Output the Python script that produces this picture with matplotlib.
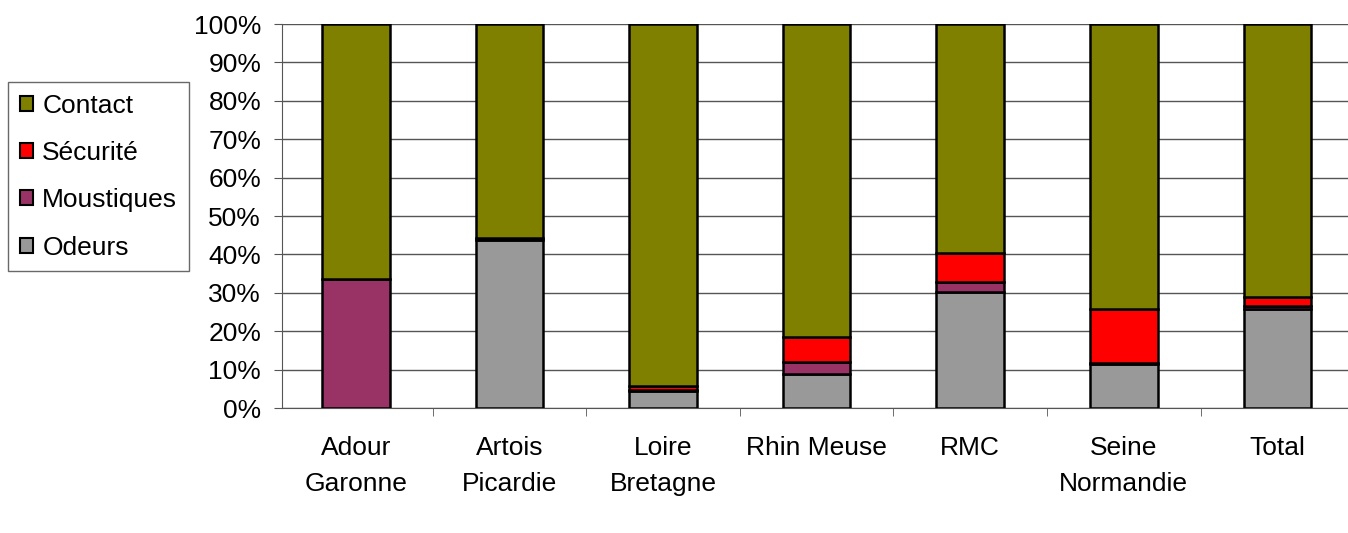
import numpy as np
import matplotlib.pyplot as plt
from matplotlib.patches import Patch

plt.rcParams['font.family'] = ['Liberation Sans', 'DejaVu Sans']

categories = ["Adour\nGaronne", "Artois\nPicardie", "Loire\nBretagne", "Rhin Meuse",
              "RMC", "Seine\nNormandie", "Total"]
odeurs = [0.0, 43.8, 4.4, 8.9, 30.1, 11.5, 25.7]
moustiques = [33.5, 0.6, 0.2, 3.2, 2.6, 0.1, 0.9]
securite = [0.0, 0.0, 1.1, 6.5, 7.7, 14.2, 2.4]
contact = [100 - o - m - s for o, m, s in zip(odeurs, moustiques, securite)]

series = [("Odeurs", odeurs, "#999999"),
          ("Moustiques", moustiques, "#993366"),
          ("Sécurité", securite, "#ff0000"),
          ("Contact", contact, "#808000")]

fs = 19

fig = plt.figure(figsize=(13.48, 5.33), dpi=100)
ax = fig.add_axes([282 / 1348, 1 - 408 / 533, 1 - 282 / 1348, 384 / 533])

x = np.arange(len(categories))
bottom = np.zeros(len(categories))
for name, vals, color in series:
    ax.bar(x, vals, 0.44, bottom=bottom, color=color, edgecolor="black", linewidth=1.8, zorder=3)
    bottom += np.array(vals)

ax.set_ylim(0, 100)
ax.set_xlim(-0.48, 6.46)
ax.set_yticks(np.arange(0, 101, 10))
ax.set_yticklabels([f"{v}%" for v in range(0, 101, 10)], fontsize=fs)
ax.yaxis.grid(True, color="#555555", linewidth=1, zorder=0)

ax.set_xticks(x)
ax.set_xticklabels(categories, fontsize=fs, linespacing=1.65)
ax.tick_params(axis="x", length=0, pad=20)
ax.set_xticks(np.arange(0.5, 6.5, 1), minor=True)
ax.tick_params(axis="x", which="minor", length=6, color="#555555")
ax.tick_params(axis="y", length=6, color="#555555", pad=9)

for s in ["top", "right"]:
    ax.spines[s].set_visible(False)
ax.spines["left"].set_color("#555555")
ax.spines["bottom"].set_color("#555555")

handles = [Patch(facecolor=c, edgecolor="black", linewidth=1.5, label=n) for n, _, c in series[::-1]]
fig.legend(handles=handles, loc="upper left", bbox_to_anchor=(8 / 1348, 1 - 82 / 533),
           fontsize=fs, frameon=True, fancybox=False, edgecolor="#444444",
           handlelength=0.5, handleheight=0.5, handletextpad=0.35, labelspacing=0.88,
           borderpad=0.45, borderaxespad=0)

fig.savefig("out.png", dpi=100)
